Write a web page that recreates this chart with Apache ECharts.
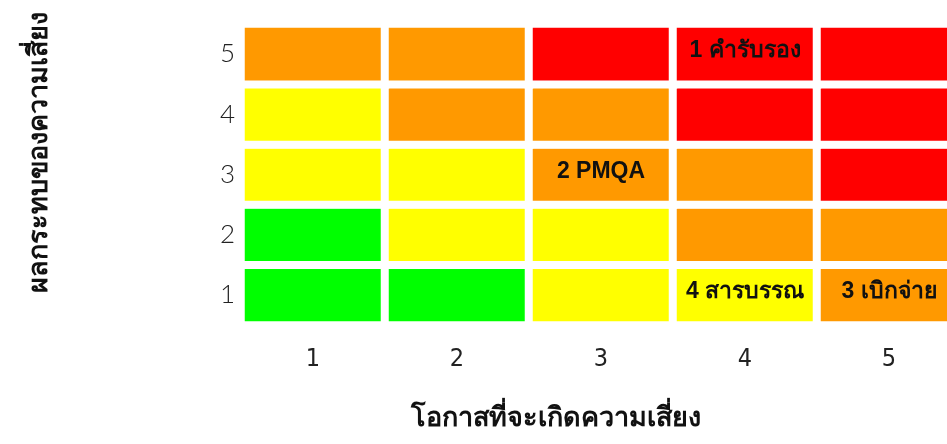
<!DOCTYPE html>
<html><head><meta charset="utf-8">
<script src="https://cdn.jsdelivr.net/npm/echarts@6/dist/echarts.min.js"></script>
<style>html,body{margin:0;padding:0;background:#fff}#c{width:947px;height:444px}</style>
</head><body><div id="c"></div>
<script>
const xLabels = ['1','2','3','4','5'];
const yLabels = ['1','2','3','4','5'];
// risk level per row (y = 1..5), per column (x = 1..5): 0 green, 1 yellow, 2 orange, 3 red
const levelY1 = [0,0,1,1,2];
const levelY2 = [0,1,1,2,2];
const levelY3 = [1,1,2,2,3];
const levelY4 = [1,2,2,3,3];
const levelY5 = [2,2,3,3,3];
const levelColors = ['#00ff00','#ffff00','#ff9900','#ff0000'];
const riskNames = ['1 คำรับรอง','2 PMQA','3 เบิกจ่าย','4 สารบรรณ'];
const riskX = ['4','3','5','4'];
const riskY = ['5','3','1','1'];
const xName = 'โอกาสที่จะเกิดความเสี่ยง';
const yName = 'ผลกระทบของความเสี่ยง';

const rows = [levelY1, levelY2, levelY3, levelY4, levelY5];
const data = [];
rows.forEach((row, yi) => row.forEach((lv, xi) => {
  let label = '';
  riskNames.forEach((n, k) => { if (riskX[k] === xLabels[xi] && riskY[k] === yLabels[yi]) label = n; });
  data.push({ value: [xi, yi, lv], name: label, itemStyle: { color: levelColors[lv] } });
}));

const chart = echarts.init(document.getElementById('c'));
chart.setOption({
  animation: false,
  grid: { left: 241, width: 720, top: 24, bottom: 119, outerBoundsMode: 'none', containLabel: false },
  xAxis: {
    type: 'category', data: xLabels,
    axisLine: { show: false }, axisTick: { show: false }, splitLine: { show: false },
    axisLabel: { fontSize: 25, color: '#222', margin: 22, fontFamily: 'Liberation Sans Narrow, DejaVu Sans Condensed, sans-serif' },
    name: xName, nameLocation: 'middle', nameGap: 80,
    nameTextStyle: { fontSize: 27, fontWeight: 'bold', color: '#111', padding: [0, 90, 0, 0] }
  },
  yAxis: {
    type: 'category', data: yLabels,
    axisLine: { show: false }, axisTick: { show: false }, splitLine: { show: false },
    axisLabel: { fontSize: 26, color: '#222', margin: 6, fontFamily: 'Lato, Open Sans, sans-serif', fontWeight: 300 },
    name: yName, nameLocation: 'middle', nameGap: 188, nameRotate: 90,
    nameTextStyle: { fontSize: 27, fontWeight: 'bold', color: '#111', padding: [0, 0, 0, 44] }
  },
  series: [{
    type: 'heatmap', data: data,
    itemStyle: { borderColor: '#fff', borderWidth: 8 },
    label: { show: true, formatter: p => p.name, fontSize: 23, fontWeight: 'bold', color: '#111', offset: [0, -3] },
    emphasis: { disabled: true }
  }]
});
</script></body></html>
